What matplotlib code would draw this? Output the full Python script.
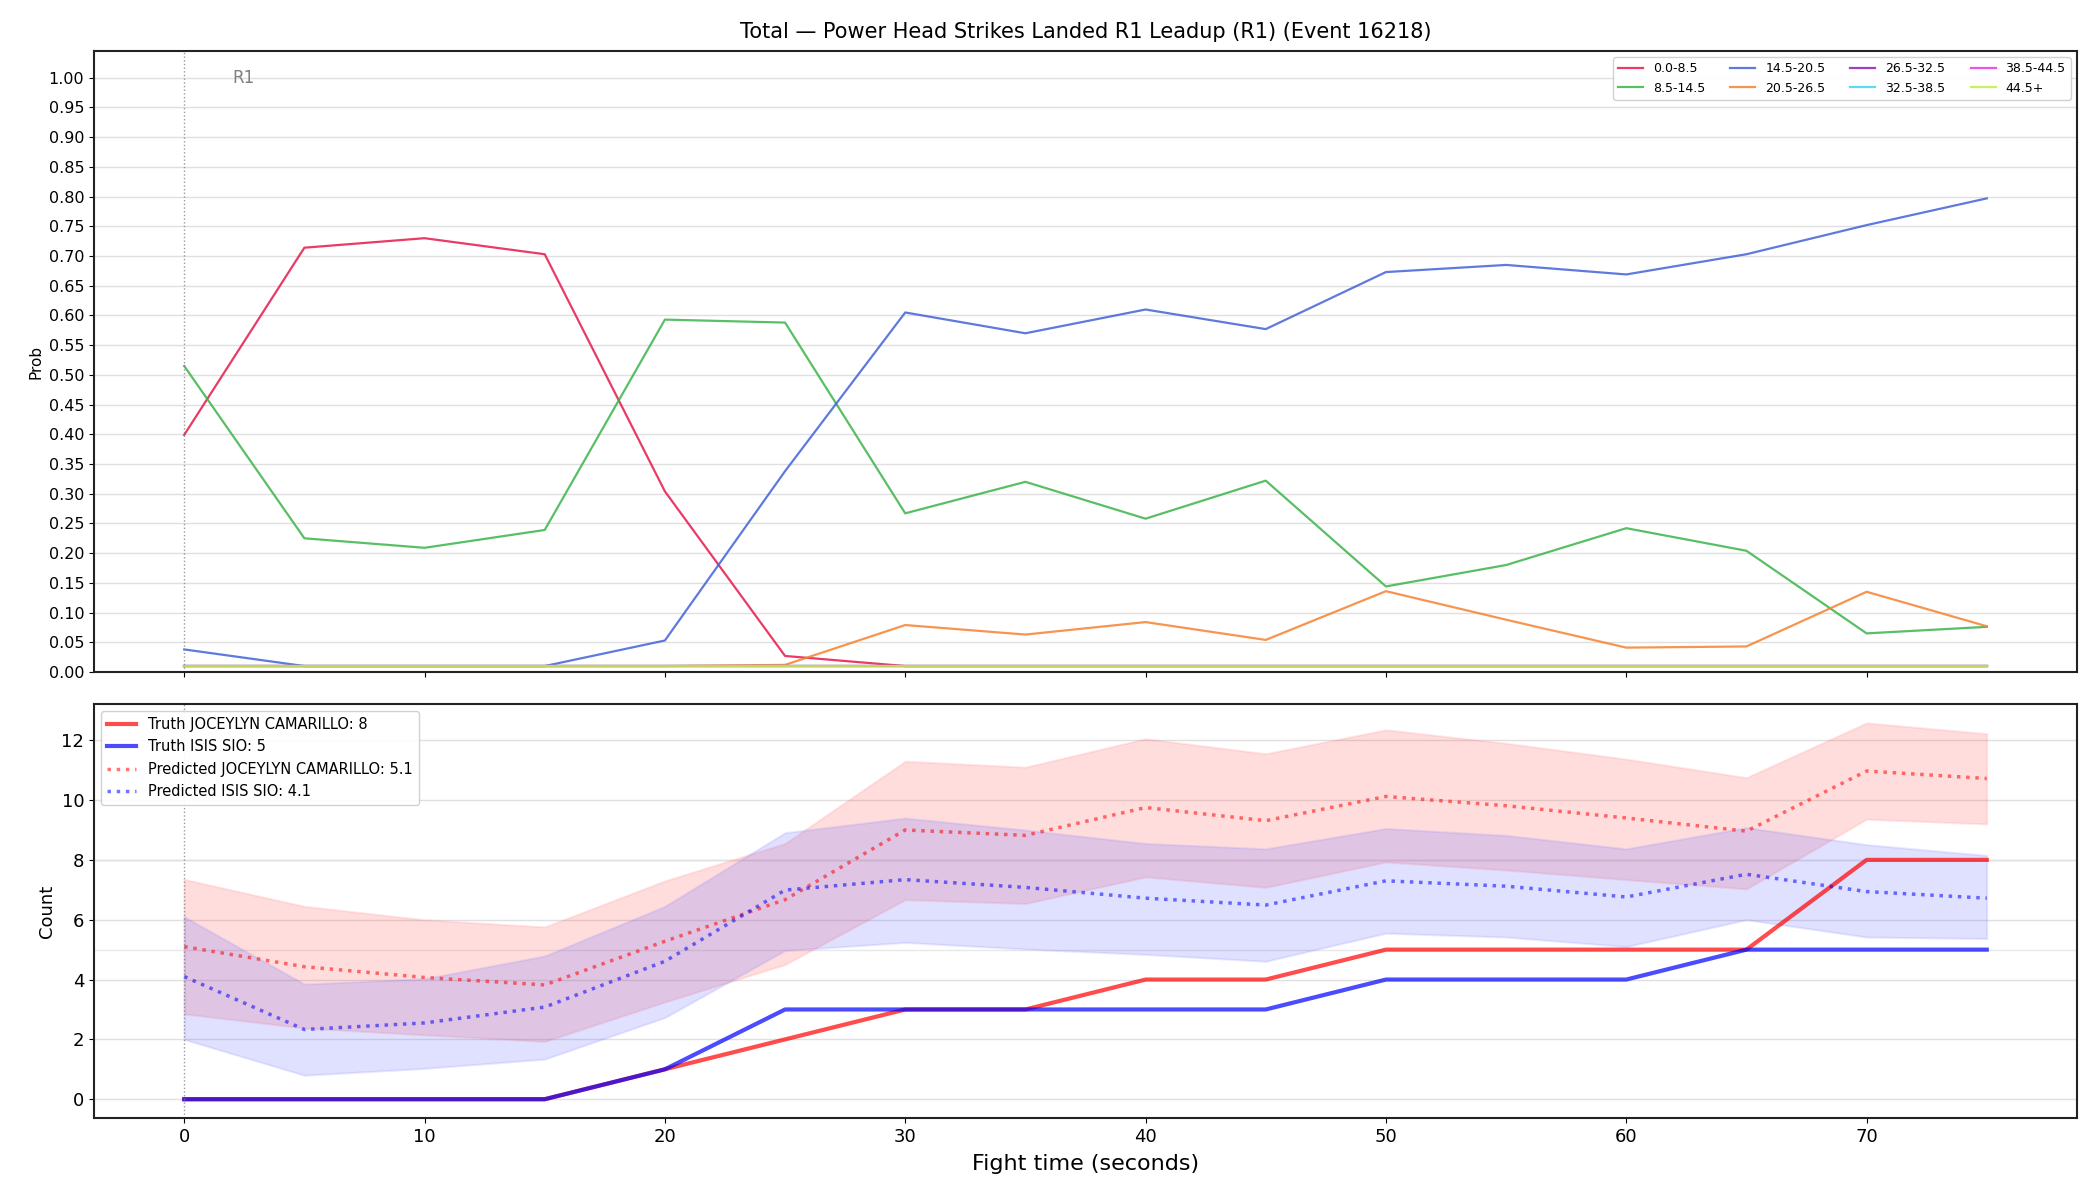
import matplotlib
matplotlib.use("Agg")
import matplotlib.pyplot as plt
import numpy as np

# ---------------- data ----------------
t = [0, 5, 10, 15, 20, 25, 30, 35, 40, 45, 50, 55, 60, 65, 70, 75]

bin_labels = ["0.0-8.5", "8.5-14.5", "14.5-20.5", "20.5-26.5",
              "26.5-32.5", "32.5-38.5", "38.5-44.5", "44.5+"]
bin_colors = ["#e6194b", "#3cb44b", "#4363d8", "#f58231",
              "#911eb4", "#42d4f4", "#f032e6", "#bfef45"]

p_0_8 = [0.399, 0.714, 0.730, 0.703, 0.304, 0.027, 0.01, 0.01, 0.01, 0.01, 0.01, 0.01, 0.01, 0.01, 0.01, 0.01]
p_8_14 = [0.515, 0.225, 0.209, 0.239, 0.593, 0.588, 0.267, 0.320, 0.258, 0.322, 0.144, 0.180, 0.242, 0.204, 0.065, 0.076]
p_14_20 = [0.038, 0.01, 0.01, 0.01, 0.053, 0.338, 0.605, 0.570, 0.610, 0.577, 0.673, 0.685, 0.669, 0.703, 0.752, 0.797]
p_20_26 = [0.01, 0.01, 0.01, 0.01, 0.01, 0.012, 0.079, 0.063, 0.084, 0.054, 0.136, 0.088, 0.041, 0.043, 0.135, 0.077]
p_26_32 = [0.01] * 16
p_32_38 = [0.01] * 16
p_38_44 = [0.01] * 16
p_44p = [0.01] * 16
probs = [p_0_8, p_8_14, p_14_20, p_20_26, p_26_32, p_32_38, p_38_44, p_44p]

name_a = "JOCEYLYN CAMARILLO"
name_b = "ISIS SIO"
truth_a = [0, 0, 0, 0, 1, 2, 3, 3, 4, 4, 5, 5, 5, 5, 8, 8]
truth_b = [0, 0, 0, 0, 1, 3, 3, 3, 3, 3, 4, 4, 4, 5, 5, 5]
pred_a = [5.1, 4.43, 4.07, 3.82, 5.28, 6.67, 9.0, 8.82, 9.75, 9.31, 10.12, 9.81, 9.40, 8.96, 10.97, 10.72]
pred_a_hi = [7.35, 6.45, 6.0, 5.76, 7.30, 8.55, 11.3, 11.1, 12.05, 11.55, 12.35, 11.9, 11.37, 10.75, 12.58, 12.22]
pred_a_lo = [2.85, 2.38, 2.15, 1.93, 3.25, 4.5, 6.67, 6.54, 7.43, 7.08, 7.93, 7.66, 7.34, 7.03, 9.36, 9.2]
pred_b = [4.1, 2.33, 2.55, 3.08, 4.61, 6.99, 7.34, 7.08, 6.72, 6.49, 7.30, 7.12, 6.76, 7.52, 6.94, 6.72]
pred_b_hi = [6.1, 3.85, 4.03, 4.79, 6.45, 8.91, 9.40, 9.0, 8.55, 8.37, 9.05, 8.82, 8.37, 9.08, 8.51, 8.15]
pred_b_lo = [2.0, 0.8, 1.03, 1.34, 2.73, 4.97, 5.24, 5.02, 4.84, 4.61, 5.55, 5.42, 5.10, 6.0, 5.42, 5.37]

final_a = 8
final_b = 5
pred_final_a = 5.1
pred_final_b = 4.1

title = "Total \u2014 Power Head Strikes Landed R1 Leadup (R1) (Event 16218)"

# ---------------- plot ----------------
fig = plt.figure(figsize=(21, 12), dpi=100)
ax1 = fig.add_axes([0.0448, 0.44, 0.9442, 0.5175])
ax2 = fig.add_axes([0.0448, 0.0683, 0.9442, 0.345], sharex=ax1)

for lab, col, p in zip(bin_labels, bin_colors, probs):
    ax1.plot(t, p, color=col, lw=1.6, alpha=0.85, label=lab)

ax1.set_ylim(0, 1.045)
ax1.set_yticks(np.arange(0, 1.0001, 0.05))
ax1.set_yticklabels([f"{v:.2f}" for v in np.arange(0, 1.0001, 0.05)])
ax1.set_ylabel("Prob", fontsize=11)
ax1.grid(axis="y", color="#e0e0e0", lw=1.0)
ax1.set_axisbelow(True)
ax1.axvline(0, color="gray", ls=":", lw=1.0, alpha=0.8)
ax1.text(2, 1.0, "R1", color="gray", fontsize=12, ha="left", va="center")
ax1.legend(loc="upper right", ncol=4, fontsize=9, framealpha=0.9)
ax1.set_title(title, fontsize=15, pad=9)
plt.setp(ax1.get_xticklabels(), visible=False)
ax1.tick_params(labelsize=11.5)

# bottom panel
ax2.axhline(final_a, color="#dddddd", lw=1.0, zorder=0)
ax2.axhline(final_b, color="#e8e8e8", lw=1.0, zorder=0)
ax2.fill_between(t, pred_a_lo, pred_a_hi, color="#ff4444", alpha=0.18, lw=1.5, edgecolor="#ff8888")
ax2.fill_between(t, pred_b_lo, pred_b_hi, color="#5555ff", alpha=0.18, lw=1.5, edgecolor="#8888ff")
ax2.plot(t, truth_a, color="red", lw=3, alpha=0.7, label=f"Truth {name_a}: {final_a}")
ax2.plot(t, truth_b, color="blue", lw=3, alpha=0.7, label=f"Truth {name_b}: {final_b}")
ax2.plot(t, pred_a, color="red", lw=2.5, ls=":", alpha=0.55, label=f"Predicted {name_a}: {pred_final_a}")
ax2.plot(t, pred_b, color="blue", lw=2.5, ls=":", alpha=0.55, label=f"Predicted {name_b}: {pred_final_b}")
ax2.axvline(0, color="gray", ls=":", lw=1.0, alpha=0.8)
ax2.set_ylabel("Count", fontsize=13)
ax2.set_xlabel("Fight time (seconds)", fontsize=16, labelpad=6)
ax2.grid(axis="y", color="#e0e0e0", lw=1.0)
ax2.set_axisbelow(True)
ax2.legend(loc="upper left", fontsize=10.5, framealpha=0.9)
ax2.tick_params(labelsize=13)
ax2.set_xlim(-3.75, 78.75)

for ax in (ax1, ax2):
    for s in ax.spines.values():
        s.set_linewidth(1.5)
        s.set_color("#222222")

fig.savefig("out.png", dpi=100)
